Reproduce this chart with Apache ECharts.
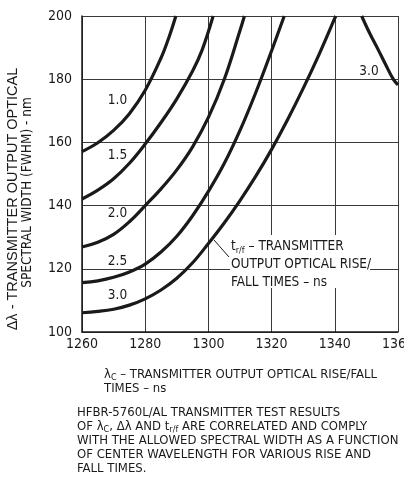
<!DOCTYPE html>
<html><head><meta charset="utf-8">
<script src="https://cdn.jsdelivr.net/npm/echarts@6/dist/echarts.min.js"></script>
<style>html,body{margin:0;padding:0;background:#fff}#c{width:404px;height:499px}</style>
</head><body><div id="c"></div>
<script>
const FONT = "'DejaVu Sans Condensed','Liberation Sans Narrow',sans-serif";
const INK = '#1a1a1a';

// axis ranges / ticks
const xTicks = [1260, 1280, 1300, 1320, 1340, 1360];
const yTicks = [100, 120, 140, 160, 180, 200];

// curve labels (rise/fall time, ns)
const curveNames = ['1.0', '1.5', '2.0', '2.5', '3.0', '3.0'];

// curve 1.0 ns
const c10x = [1260, 1265, 1270, 1275, 1280, 1285, 1287.5, 1289.7];
const c10y = [157.1, 159.9, 163.8, 169.1, 176.5, 186.7, 193.2, 200];
// curve 1.5 ns
const c15x = [1260, 1265, 1270, 1275, 1280, 1285, 1290, 1295, 1298, 1301.5];
const c15y = [142.1, 144.9, 148.5, 153.4, 159.5, 166.3, 173.8, 182.6, 189.2, 200];
// curve 2.0 ns
const c20x = [1260, 1265, 1270, 1275, 1280, 1285, 1290, 1295, 1300, 1305, 1310, 1311.4];
const c20y = [126.9, 128.4, 130.9, 134.9, 140.0, 145.3, 151.3, 158.6, 167.9, 179.9, 195.4, 200];
// curve 2.5 ns
const c25x = [1260, 1265, 1270, 1275, 1280, 1285, 1290, 1295, 1300, 1305, 1310, 1315, 1320, 1324];
const c25y = [115.6, 116.2, 117.3, 119.0, 121.5, 125.3, 130.3, 136.8, 144.5, 153.3, 163.8, 175.8, 189.0, 200];
// curve 3.0 ns (left branch)
const c30x = [1260, 1265, 1270, 1275, 1280, 1285, 1290, 1295, 1300, 1305, 1310, 1315, 1320, 1325, 1330, 1335, 1340, 1340.3];
const c30y = [106.1, 106.5, 107.2, 108.5, 110.5, 113.3, 117.0, 121.9, 128.0, 134.5, 141.6, 149.3, 157.8, 167.1, 177.1, 187.8, 199.3, 200];
// curve 3.0 ns (right branch)
const c30bx = [1348.5, 1351, 1353.8, 1356, 1358.5, 1360];
const c30by = [200, 194.6, 189.2, 184.8, 180, 178.2];

const curves = [[c10x, c10y], [c15x, c15y], [c20x, c20y], [c25x, c25y], [c30x, c30y], [c30bx, c30by]];

const chart = echarts.init(document.getElementById('c'), null, {renderer: 'canvas'});

const series = curves.map((c, i) => ({
  name: curveNames[i],
  type: 'line',
  data: c[0].map((x, k) => [x, c[1][k]]),
  smooth: 0.4,
  symbol: 'none',
  clip: true,
  lineStyle: {color: INK, width: 3.2},
  z: 3
}));

function t(x, y, text, extra) {
  return {
    type: 'text', x: x, y: y, z: 100,
    style: Object.assign({text: text, font: '13.5px ' + FONT, fill: INK, align: 'center', verticalAlign: 'middle'}, extra || {})
  };
}

const sub = {fontSize: 9, fontFamily: FONT, lineHeight: 9, verticalAlign: 'bottom', fill: INK, color: INK};

const labelPos = [[117.5, 100], [117.5, 155], [117.5, 213], [117.5, 261], [117.5, 295], [369, 71]];

const graphics = [];
curveNames.forEach((n, i) => graphics.push(t(labelPos[i][0], labelPos[i][1], n)));

// annotation box
graphics.push({type: 'rect', shape: {x: 230, y: 235, width: 140, height: 53}, style: {fill: '#fff'}, z: 50});
graphics.push({type: 'line', shape: {x1: 214, y1: 240, x2: 229, y2: 257}, style: {stroke: INK, lineWidth: 1}, z: 60});
graphics.push({
  type: 'text', x: 231, y: 237, z: 100,
  style: {
    text: 't{s|r/f} – TRANSMITTER\nOUTPUT OPTICAL RISE/\nFALL TIMES – ns',
    font: '13.5px ' + FONT, fill: INK, lineHeight: 18, align: 'left', verticalAlign: 'top',
    rich: {s: sub}
  }
});

// y axis title (two rotated lines)
graphics.push({type: 'text', x: 13, y: 199, rotation: Math.PI / 2, z: 100,
  style: {text: 'Δλ - TRANSMITTER OUTPUT OPTICAL', font: "14.5px 'Liberation Sans', Arial, sans-serif", fill: INK, align: 'center', verticalAlign: 'middle'}});
graphics.push({type: 'text', x: 27, y: 192.5, rotation: Math.PI / 2, z: 100,
  style: {text: 'SPECTRAL WIDTH (FWHM) - nm', font: '13.5px ' + FONT, fill: INK, align: 'center', verticalAlign: 'middle'}});

// x axis title
graphics.push({
  type: 'text', x: 104, y: 368, z: 100,
  style: {text: 'λ{s|C} – TRANSMITTER OUTPUT OPTICAL RISE/FALL\nTIMES – ns', font: '13px ' + FONT, fill: INK,
    lineHeight: 14, align: 'left', verticalAlign: 'top', rich: {s: sub}}
});
// note paragraph
graphics.push({
  type: 'text', x: 77, y: 405.7, z: 100,
  style: {text: 'HFBR-5760L/AL TRANSMITTER TEST RESULTS\nOF λ{s|C}, Δλ AND t{s|r/f} ARE CORRELATED AND COMPLY\nWITH THE ALLOWED SPECTRAL WIDTH AS A FUNCTION\nOF CENTER WAVELENGTH FOR VARIOUS RISE AND\nFALL TIMES.',
    font: '13px ' + FONT, fill: INK, lineHeight: 14, align: 'left', verticalAlign: 'top', rich: {s: sub}}
});

chart.setOption({
  animation: false,
  backgroundColor: '#fff',
  grid: {left: 82, right: 6, top: 16, bottom: 167, containLabel: false, outerBoundsMode: 'none'},
  xAxis: {
    type: 'value', min: xTicks[0], max: xTicks[xTicks.length - 1], interval: xTicks[1] - xTicks[0],
    axisLine: {show: true, lineStyle: {color: INK, width: 1.5}},
    axisTick: {show: false},
    axisLabel: {color: INK, fontSize: 14, fontFamily: FONT, margin: 5, showMaxLabel: true, showMinLabel: true,
      formatter: v => String(v)},
    splitLine: {show: true, lineStyle: {color: '#3a3a3a', width: 1}}
  },
  yAxis: {
    type: 'value', min: yTicks[0], max: yTicks[yTicks.length - 1], interval: yTicks[1] - yTicks[0],
    axisLine: {show: true, lineStyle: {color: INK, width: 1.5}},
    axisTick: {show: false},
    axisLabel: {color: INK, fontSize: 14, fontFamily: FONT, margin: 10, formatter: v => String(v)},
    splitLine: {show: true, lineStyle: {color: '#3a3a3a', width: 1}}
  },
  series: series,
  graphic: graphics
});
</script>
</body></html>
